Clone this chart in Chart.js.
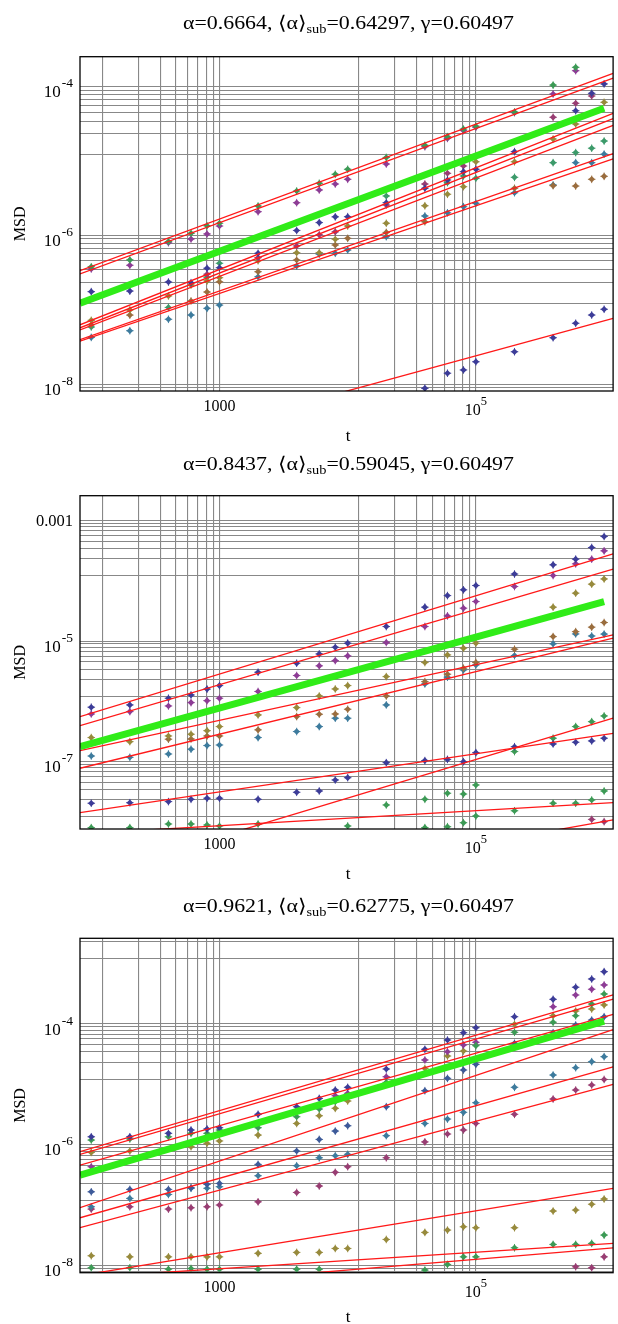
<!DOCTYPE html>
<html><head><meta charset="utf-8">
<script src="https://cdn.jsdelivr.net/npm/chart.js@4.4.1/dist/chart.umd.min.js"></script>
<style>
html,body{margin:0;padding:0;background:#fff;width:618px;height:1324px;overflow:hidden}
canvas{position:absolute;left:0}
</style></head><body>
<canvas id="c1"></canvas><canvas id="c2"></canvas><canvas id="c3"></canvas>
<script>
// ---------- shared axis data ----------
const T = [100,200,400,600,800,1000,2000,4000,6000,8000,1e4,2e4,4e4,6e4,8e4,1e5,2e5,4e5,6e5,8e5,1e6];
const T_MIN = 81.7, T_MAX = 1.175e6;          // x-axis range
const FIT_T = [T_MIN, T_MAX];                  // fitted lines span the whole axis
const MEAN_T = [T_MIN, 1e6];                   // green mean line
const GRID_FRACTIONS = [0.122,0.233,0.344,0.455,0.566,0.677,0.788,0.899,1];
const X_GRID_DECADES = [1e3, 1e5];
const X_TICK_VALUES = [1e3, 1e5];
const X_TICK_BASE = ['1000', '10'];
const X_TICK_EXP = ['', '5'];

// ---------- panel 1 ----------
const p1Title = ['0.6664', '0.64297', '0.60497'];
const p1YRange = [8.13e-9, 2.53e-4];
const p1YGridDecades = [1e-4, 1e-6, 1e-8];
const p1YTickValues = [1e-4, 1e-6, 1e-8];
const p1YTickBase = ['10', '10', '10'];
const p1YTickExp = ['-4', '-6', '-8'];
const p1Green1  = [3.8e-7,4.7e-7,8.3e-7,1.07e-6,1.35e-6,1.46e-6,2.49e-6,3.96e-6,5.04e-6,6.65e-6,7.76e-6,1.12e-5,1.63e-5,2.13e-5,2.69e-5,2.95e-5,4.57e-5,1.05e-4,1.82e-4,null,null];
const p1Purple1 = [3.55e-7,3.98e-7,8.0e-7,8.97e-7,1.05e-6,1.34e-6,2.09e-6,2.76e-6,4.09e-6,4.92e-6,5.69e-6,9.14e-6,1.56e-5,2.02e-5,2.57e-5,2.85e-5,4.48e-5,7.98e-5,1.64e-4,null,null];
const p1Blue    = [1.76e-7,1.79e-7,2.37e-7,2.32e-7,3.63e-7,3.69e-7,5.77e-7,1.17e-6,1.49e-6,1.78e-6,1.79e-6,2.76e-6,4.31e-6,5.57e-6,7.21e-6,7.76e-6,1.34e-5,null,4.75e-5,8.15e-5,1.09e-4];
const p1Purple2 = [null,null,null,null,3.02e-7,null,5.04e-7,7.23e-7,1.02e-6,1.12e-6,null,2.57e-6,4.92e-6,6.85e-6,8.59e-6,null,null,3.88e-5,5.98e-5,7.5e-5,null];
const p1Olive1  = [7.24e-8,1.0e-7,1.54e-7,2.16e-7,2.45e-7,2.71e-7,4.58e-7,5.87e-7,5.87e-7,8.91e-7,1.34e-6,1.46e-6,2.51e-6,3.58e-6,4.53e-6,9.8e-6,9.8e-6,1.98e-5,3.15e-5,null,6.17e-5];
const p1Olive2  = [6.31e-8,8.51e-8,null,1.32e-7,1.74e-7,2.39e-7,3.26e-7,4.69e-7,null,7.45e-7,9.16e-7,1.10e-6,1.53e-6,null,null,null,4.31e-6,4.68e-6,4.62e-6,5.69e-6,6.24e-6];
const p1Green2  = [5.89e-8,null,1.08e-7,null,2.75e-7,4.23e-7,null,null,null,null,null,3.4e-6,null,5.13e-6,6.31e-6,5.87e-6,6.05e-6,9.53e-6,1.30e-5,1.49e-5,1.86e-5];
const p1Steel   = [4.27e-8,5.25e-8,7.48e-8,8.53e-8,1.05e-7,1.16e-7,2.79e-7,3.89e-7,5.62e-7,5.77e-7,6.38e-7,9.64e-7,1.83e-6,2.02e-6,2.44e-6,2.71e-6,3.76e-6,4.78e-6,9.53e-6,9.53e-6,1.24e-5];
const p1BlueLow = [null,null,null,null,null,null,null,null,null,null,null,null,8.83e-9,1.41e-8,1.56e-8,2.01e-8,2.74e-8,4.23e-8,6.61e-8,8.53e-8,1.02e-7];
const p1FitAtMin = [3.37e-7,3.04e-7,6.31e-8,5.75e-8,5.37e-8,3.98e-8,3.80e-8,8.51e-10];
const p1FitAtMax = [1.51e-4,1.30e-4,4.37e-5,3.72e-5,3.02e-5,1.26e-5,1.07e-5,7.71e-8];
const p1Mean = [1.23e-7, 5.13e-5];

// ---------- panel 2 ----------
const p2Title = ['0.8437', '0.59045', '0.60497'];
const p2YRange = [7.62e-9, 2.60e-3];
const p2YGridDecades = [1e-3, 1e-5, 1e-7];
const p2YTickValues = [1e-3, 1e-5, 1e-7];
const p2YTickBase = ['0.001', '10', '10'];
const p2YTickExp = ['', '-5', '-7'];
const p2Blue    = [8.02e-7,8.75e-7,1.13e-6,1.28e-6,1.60e-6,1.83e-6,3.05e-6,4.31e-6,6.15e-6,7.94e-6,9.27e-6,1.75e-5,3.67e-5,5.71e-5,7.11e-5,8.39e-5,1.30e-4,1.85e-4,2.30e-4,3.59e-4,5.47e-4];
const p2Purple  = [6.19e-7,6.78e-7,8.41e-7,9.55e-7,1.03e-6,1.13e-6,1.46e-6,2.69e-6,3.89e-6,4.76e-6,5.70e-6,9.48e-6,1.75e-5,2.63e-5,3.53e-5,4.55e-5,8.07e-5,1.23e-4,1.92e-4,2.30e-4,3.16e-4];
const p2Olive   = [2.51e-7,2.15e-7,2.67e-7,2.85e-7,3.27e-7,3.82e-7,5.97e-7,7.89e-7,1.23e-6,1.61e-6,1.83e-6,2.58e-6,4.42e-6,5.92e-6,7.66e-6,9.27e-6,null,3.67e-5,6.27e-5,8.85e-5,1.08e-4];
const p2Brown   = [null,null,2.36e-7,2.38e-7,2.67e-7,2.67e-7,3.37e-7,5.60e-7,6.12e-7,6.19e-7,7.41e-7,1.23e-6,2.13e-6,2.83e-6,3.56e-6,4.42e-6,7.36e-6,1.19e-5,1.44e-5,1.71e-5,2.04e-5];
const p2Steel   = [1.24e-7,1.18e-7,1.34e-7,1.61e-7,1.85e-7,1.89e-7,2.51e-7,3.16e-7,3.82e-7,5.26e-7,5.26e-7,8.75e-7,1.95e-6,2.52e-6,3.33e-6,4.04e-6,5.77e-6,9.02e-6,1.32e-5,1.22e-5,1.31e-5];
const p2BlueLow = [2.04e-8,2.08e-8,2.17e-8,2.37e-8,2.47e-8,2.47e-8,2.37e-8,3.10e-8,3.26e-8,4.97e-8,5.42e-8,9.62e-8,1.04e-7,1.09e-7,1.0e-7,1.41e-7,1.77e-7,1.97e-7,2.10e-7,2.21e-7,2.45e-7];
const p2GreenLow = [8.02e-9,8.02e-9,9.23e-9,9.23e-9,8.87e-9,8.55e-9,9.23e-9,null,null,null,8.55e-9,1.91e-8,2.37e-8,2.99e-8,2.90e-8,4.10e-8,1.47e-7,2.45e-7,3.82e-7,4.61e-7,5.74e-7];
const p2GreenFlat = [null,null,null,null,null,null,null,null,null,null,null,null,8.02e-9,8.32e-9,9.70e-9,1.25e-8,1.53e-8,2.04e-8,2.04e-8,2.31e-8,3.26e-8];
const p2PurpleLow = [null,null,null,null,null,null,null,null,null,null,null,null,null,null,null,null,null,null,null,1.10e-8,1.01e-8];
const p2FitAtMin = [5.60e-7,3.96e-7,1.52e-7,7.76e-8,1.42e-8,1.14e-9,6.31e-9,2.88e-10];
const p2FitAtMax = [2.82e-4,1.57e-4,1.27e-5,1.12e-5,2.95e-7,5.26e-7,2.09e-8,1.08e-8];
const p2Mean = [1.77e-7, 4.55e-5];

// ---------- panel 3 ----------
const p3Title = ['0.9621', '0.62775', '0.60497'];
const p3YRange = [7.66e-9, 2.62e-3];
const p3YGridDecades = [1e-2, 1e-4, 1e-6, 1e-8];
const p3YTickValues = [1e-4, 1e-6, 1e-8];
const p3YTickBase = ['10', '10', '10'];
const p3YTickExp = ['-4', '-6', '-8'];
const p3Blue    = [1.36e-6,1.36e-6,1.55e-6,1.76e-6,1.83e-6,1.92e-6,3.20e-6,4.28e-6,5.87e-6,8.07e-6,8.95e-6,1.80e-5,3.81e-5,5.43e-5,7.18e-5,8.69e-5,1.32e-4,2.56e-4,4.06e-4,5.56e-4,7.35e-4];
const p3Green   = [1.20e-6,1.25e-6,1.36e-6,1.55e-6,1.55e-6,1.76e-6,1.92e-6,2.92e-6,3.92e-6,5.18e-6,null,1.08e-5,null,null,null,4.38e-5,7.29e-5,1.07e-4,1.37e-4,2.14e-4,3.14e-4];
const p3Purple  = [4.35e-7,null,null,null,null,null,null,null,null,6.50e-6,7.13e-6,1.34e-5,2.54e-5,3.48e-5,4.49e-5,4.98e-5,null,1.93e-4,3.02e-4,3.76e-4,4.43e-4];
const p3Olive   = [7.50e-7,7.89e-7,null,9.31e-7,1.06e-6,1.16e-6,1.45e-6,2.26e-6,3.03e-6,4.02e-6,5.31e-6,null,1.84e-5,2.95e-5,3.57e-5,null,9.89e-5,1.37e-4,1.64e-4,1.77e-4,2.07e-4];
const p3Blue2   = [1.67e-7,1.83e-7,1.83e-7,1.95e-7,2.22e-7,2.30e-7,4.75e-7,7.89e-7,1.23e-6,1.69e-6,2.07e-6,4.28e-6,7.87e-6,1.26e-5,1.73e-5,2.15e-5,4.79e-5,7.18e-5,9.62e-5,1.16e-4,1.32e-4];
const p3Steel   = [9.44e-8,1.30e-7,1.51e-7,1.91e-7,1.91e-7,2.03e-7,3.08e-7,4.51e-7,6.11e-7,6.61e-7,6.97e-7,1.42e-6,2.26e-6,2.67e-6,3.45e-6,4.98e-6,8.95e-6,1.43e-5,1.89e-5,2.38e-5,2.88e-5];
const p3Purple2 = [8.65e-8,9.44e-8,8.65e-8,9.10e-8,9.44e-8,1.01e-7,1.14e-7,1.63e-7,2.08e-7,3.51e-7,4.35e-7,6.11e-7,1.12e-6,1.51e-6,1.76e-6,2.26e-6,3.20e-6,5.73e-6,8.07e-6,9.77e-6,1.21e-5];
const p3OliveLow = [1.46e-8,1.40e-8,1.40e-8,1.40e-8,1.40e-8,1.40e-8,1.60e-8,1.66e-8,1.66e-8,1.93e-8,1.93e-8,2.72e-8,3.56e-8,3.88e-8,4.41e-8,4.25e-8,4.25e-8,8.02e-8,8.32e-8,1.04e-7,1.27e-7];
const p3GreenLow = [9.23e-9,9.23e-9,8.77e-9,8.99e-9,8.77e-9,8.77e-9,8.77e-9,8.77e-9,8.77e-9,null,null,null,8.45e-9,1.05e-8,1.40e-8,1.40e-8,1.98e-8,2.25e-8,2.25e-8,2.34e-8,3.21e-8];
const p3PurpleLow = [null,null,null,null,null,null,null,null,null,null,null,null,null,null,null,null,null,null,9.59e-9,9.23e-9,1.40e-8];
const p3FitAtMin = [7.69e-7,6.95e-7,4.63e-7,9.10e-8,6.21e-8,4.25e-8,6.86e-9,6.32e-9,3.61e-9];
const p3FitAtMax = [3.02e-4,2.59e-4,1.45e-4,8.05e-5,1.96e-5,1.00e-5,1.91e-7,2.34e-8,1.98e-8];
const p3Mean = [3.16e-7, 1.12e-4];

// ---------- styling ----------
const C = {
  blue:'#3c3c98', purple:'#8d3c95', magenta:'#983d72', olive:'#978a3c', brown:'#9a6d3e',
  green:'#3c9a55', green2:'#3c9a6a', steel:'#3d7b9d', blue2:'#3d5a99'
};
const SERIF = '"Liberation Serif","DejaVu Serif",serif';

const panels = [
  { id:'c1', top:0,   h:445, ft:56.7,  fb:391,    titleBase:28.5, yRange:p1YRange, yDec:p1YGridDecades,
    yT:p1YTickValues, yB:p1YTickBase, yE:p1YTickExp, title:p1Title,
    series:[[p1Green1,C.green],[p1Purple1,C.purple],[p1Blue,C.blue],[p1Purple2,C.magenta],[p1Olive1,C.olive],
            [p1Olive2,C.brown],[p1Green2,C.green2],[p1Steel,C.steel],[p1BlueLow,C.blue]],
    fitMin:p1FitAtMin, fitMax:p1FitAtMax, mean:p1Mean },
  { id:'c2', top:445, h:440, ft:495.7, fb:829,    titleBase:469.5, yRange:p2YRange, yDec:p2YGridDecades,
    yT:p2YTickValues, yB:p2YTickBase, yE:p2YTickExp, title:p2Title,
    series:[[p2Blue,C.blue],[p2Purple,C.purple],[p2Olive,C.olive],[p2Brown,C.brown],[p2Steel,C.steel],
            [p2BlueLow,C.blue],[p2GreenLow,C.green],[p2GreenFlat,C.green],[p2PurpleLow,C.magenta]],
    fitMin:p2FitAtMin, fitMax:p2FitAtMax, mean:p2Mean },
  { id:'c3', top:885, h:439, ft:938.3, fb:1272.7, titleBase:912, yRange:p3YRange, yDec:p3YGridDecades,
    yT:p3YTickValues, yB:p3YTickBase, yE:p3YTickExp, title:p3Title,
    series:[[p3Blue,C.blue],[p3Green,C.green],[p3Purple,C.purple],[p3Olive,C.olive],[p3Blue2,C.blue2],
            [p3Steel,C.steel],[p3Purple2,C.magenta],[p3OliveLow,C.olive],[p3GreenLow,C.green],[p3PurpleLow,C.magenta]],
    fitMin:p3FitAtMin, fitMax:p3FitAtMax, mean:p3Mean }
];

const LEFT = 80, RIGHT = 617;

function gridValues(decades, lo, hi) {
  const out = [];
  decades.forEach(d => GRID_FRACTIONS.forEach(f => { const v = f * d; if (v >= lo && v <= hi) out.push(v); }));
  return out;
}

function makeDecor(p) {
  return {
    id: 'decor_' + p.id,
    afterDraw(chart) {
      const ctx = chart.ctx, a = chart.chartArea, xs = chart.scales.x, ys = chart.scales.y;
      const off = p.top;
      ctx.save();
      ctx.fillStyle = '#000';
      // frame
      ctx.strokeStyle = '#000'; ctx.lineWidth = 1.3;
      ctx.strokeRect(a.left, a.top, a.right - a.left, a.bottom - a.top);
      // title
      const big = '19px ' + SERIF, small = '12.5px ' + SERIF;
      const parts = [[big, 'α=' + p.title[0] + ', ⟨α⟩', 0], [small, 'sub', 4], [big, '=' + p.title[1] + ', γ=' + p.title[2], 0]];
      let w = 0; parts.forEach(q => { ctx.font = q[0]; w += ctx.measureText(q[1]).width; });
      const target = 331, sx = target / w;
      ctx.save();
      ctx.translate(348.5 - target / 2, p.titleBase - off);
      ctx.scale(sx, 1);
      ctx.textAlign = 'left'; ctx.textBaseline = 'alphabetic';
      let x = 0; parts.forEach(q => { ctx.font = q[0]; ctx.fillText(q[1], x, q[2]); x += ctx.measureText(q[1]).width; });
      ctx.restore();
      // y tick labels
      ctx.textBaseline = 'alphabetic';
      p.yT.forEach((v, i) => {
        const y = ys.getPixelForValue(v);
        const R = 73;
        ctx.textAlign = 'right';
        if (p.yE[i]) {
          ctx.font = '13.5px ' + SERIF;
          const ew = ctx.measureText(p.yE[i]).width;
          ctx.fillText(p.yE[i], R, y + 0.5);
          ctx.font = '17px ' + SERIF;
          ctx.fillText(p.yB[i], R - ew - 1, y + 10.5);
        } else {
          ctx.font = '16.5px ' + SERIF;
          ctx.fillText(p.yB[i], R, y + 5.5);
        }
      });
      // x tick labels
      X_TICK_VALUES.forEach((v, i) => {
        const px = xs.getPixelForValue(v);
        ctx.font = '16px ' + SERIF;
        const bw = ctx.measureText(X_TICK_BASE[i]).width;
        if (X_TICK_EXP[i]) {
          ctx.font = '12.5px ' + SERIF;
          const ew = ctx.measureText(X_TICK_EXP[i]).width;
          const start = px - (bw + ew) / 2;
          ctx.textAlign = 'left';
          ctx.fillText(X_TICK_EXP[i], start + bw, a.bottom + 14);
          ctx.font = '16px ' + SERIF;
          ctx.fillText(X_TICK_BASE[i], start, a.bottom + 24);
        } else {
          ctx.textAlign = 'center';
          ctx.fillText(X_TICK_BASE[i], px, a.bottom + 19.5);
        }
      });
      // axis titles
      ctx.font = '16px ' + SERIF;
      ctx.textAlign = 'center'; ctx.textBaseline = 'middle';
      ctx.save();
      ctx.translate(21, (a.top + a.bottom) / 2);
      ctx.rotate(-Math.PI / 2);
      ctx.fillText('MSD', 0, 0);
      ctx.restore();
      ctx.font = '17px ' + SERIF;
      ctx.textBaseline = 'alphabetic';
      ctx.fillText('t', 348, a.bottom + 49.5);
      ctx.restore();
    }
  };
}

panels.forEach(p => {
  const cv = document.getElementById(p.id);
  cv.width = 618; cv.height = p.h;
  cv.style.top = p.top + 'px'; cv.style.width = '618px'; cv.style.height = p.h + 'px';
  const datasets = [];
  // green mean line (on top)
  datasets.push({ type:'scatter', showLine:true, data: MEAN_T.map((t, i) => ({x:t, y:p.mean[i]})),
    borderColor:'rgb(48,236,24)', borderWidth:7, pointRadius:0, borderCapStyle:'butt', clip:0, order:0 });
  // red fits
  p.fitMin.forEach((v, i) => datasets.push({ type:'scatter', showLine:true,
    data:[{x:FIT_T[0], y:v}, {x:FIT_T[1], y:p.fitMax[i]}],
    borderColor:'rgb(255,25,25)', borderWidth:1.3, pointRadius:0, clip:0, order:1 }));
  // points: a filled diamond with a short thin cross gives the four-pointed marker
  p.series.forEach(([arr, col]) => {
    const pts = T.map((t, i) => ({x:t, y:arr[i]})).filter(d => d.y !== null);
    datasets.push({ type:'scatter', data: pts,
      pointStyle:'rectRot', pointRadius:3.3, backgroundColor:col, borderWidth:0, order:2 });
    datasets.push({ type:'scatter', data: pts,
      pointStyle:'cross', pointRadius:3.8, borderColor:col, pointBorderWidth:0.9, backgroundColor:col, order:2 });
  });
  const xGrid = gridValues(X_GRID_DECADES, T_MIN, T_MAX);
  const yGrid = gridValues(p.yDec, p.yRange[0], p.yRange[1]);
  new Chart(cv, {
    type:'scatter',
    data:{ datasets },
    options:{
      responsive:false, animation:false, devicePixelRatio:1, events:[],
      layout:{ padding:{ top:p.ft - p.top, right:618 - RIGHT, left:0, bottom:0 } },
      plugins:{ legend:{display:false}, tooltip:{enabled:false}, title:{display:false} },
      scales:{
        x:{ type:'logarithmic', min:T_MIN, max:T_MAX,
            ticks:{display:false}, border:{display:false},
            grid:{ color:'#888888', lineWidth:1.1, drawTicks:false },
            afterBuildTicks: s => { s.ticks = xGrid.map(v => ({value:v})); },
            afterFit: s => { s.height = (p.top + p.h) - p.fb; } },
        y:{ type:'logarithmic', min:p.yRange[0], max:p.yRange[1],
            ticks:{display:false}, border:{display:false},
            grid:{ color:'#888888', lineWidth:1.1, drawTicks:false },
            afterBuildTicks: s => { s.ticks = yGrid.map(v => ({value:v})); },
            afterFit: s => { s.width = LEFT; } }
      }
    },
    plugins:[ makeDecor(p) ]
  });
});
</script>
</body></html>
